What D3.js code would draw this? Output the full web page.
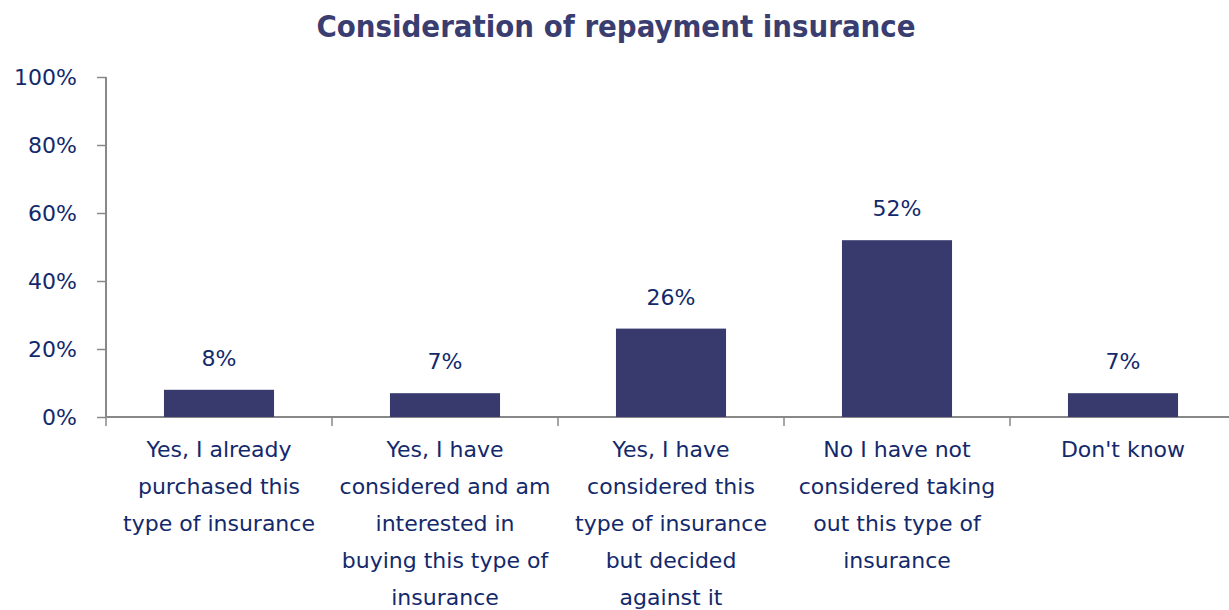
<!DOCTYPE html>
<html><head><meta charset="utf-8">
<script src="https://cdn.jsdelivr.net/npm/d3@7"></script>
<style>body{margin:0;background:#fff}svg{display:block}</style>
</head><body>
<svg id="c" width="1229" height="610"></svg>
<script>
const title = "Consideration of repayment insurance";
const categories = [
  "Yes, I already\npurchased this\ntype of insurance",
  "Yes, I have\nconsidered and am\ninterested in\nbuying this type of\ninsurance",
  "Yes, I have\nconsidered this\ntype of insurance\nbut decided\nagainst it",
  "No I have not\nconsidered taking\nout this type of\ninsurance",
  "Don't know"
];
const values = [8, 7, 26, 52, 7];
const yTicks = [0, 20, 40, 60, 80, 100];

(function () {
const svg = d3.select("#c");
const font = "'DejaVu Sans', Verdana, sans-serif";
const textColor = "#13296b";
const mL = 106, mR = 1236, mT = 77, mB = 417;

const x = d3.scaleBand().domain(categories).range([mL, mR]).paddingInner(0.513).paddingOuter(0.2565);
const xb = d3.scaleBand().domain(categories).range([mL, mR]);
const y = d3.scaleLinear().domain([0, 100]).range([mB, mT]);

svg.append("text").attr("x", 616).attr("y", 37).attr("text-anchor", "middle")
  .attr("font-family", "'DejaVu Sans Condensed', 'DejaVu Sans', sans-serif")
  .attr("font-size", 30.8).attr("font-weight", "bold")
  .attr("fill", "#3a3d70").text(title);

const ya = svg.append("g").attr("transform", `translate(${mL},0)`)
  .call(d3.axisLeft(y).tickValues(yTicks).tickFormat(d => d + "%").tickSize(9).tickPadding(20));
ya.select(".domain").attr("stroke", "#888").attr("stroke-width", 2).attr("d", `M0,${mT}H0V${mB}`);
ya.selectAll(".tick line").attr("stroke", "#888").attr("stroke-width", 1.5);
ya.selectAll(".tick text").attr("font-family", font).attr("font-size", 22).attr("fill", textColor);

svg.append("line").attr("x1", mL).attr("x2", 1229).attr("y1", mB).attr("y2", mB)
  .attr("stroke", "#888").attr("stroke-width", 2);
svg.selectAll(".xt").data(categories).enter().append("line")
  .attr("x1", d => xb(d)).attr("x2", d => xb(d)).attr("y1", mB).attr("y2", mB + 9)
  .attr("stroke", "#888").attr("stroke-width", 1.5);

svg.selectAll(".bar").data(categories).enter().append("rect")
  .attr("x", d => x(d)).attr("width", x.bandwidth())
  .attr("y", (d, i) => y(values[i])).attr("height", (d, i) => mB - y(values[i]))
  .attr("fill", "#383a6e");

svg.selectAll(".vl").data(categories).enter().append("text")
  .attr("x", d => x(d) + x.bandwidth() / 2).attr("y", (d, i) => y(values[i]) - 24)
  .attr("text-anchor", "middle").attr("font-family", font).attr("font-size", 22)
  .attr("fill", textColor).text((d, i) => values[i] + "%");

svg.selectAll(".cl").data(categories).enter().append("text")
  .attr("text-anchor", "middle").attr("font-family", font)
  .attr("font-size", 22).attr("fill", textColor)
  .each(function (c) {
    const cx = xb(c) + xb.bandwidth() / 2;
    c.split("\n").forEach((l, i) => d3.select(this).append("tspan")
      .attr("x", cx).attr("y", 457 + i * 37).text(l));
  });
})();
</script>
</body></html>
